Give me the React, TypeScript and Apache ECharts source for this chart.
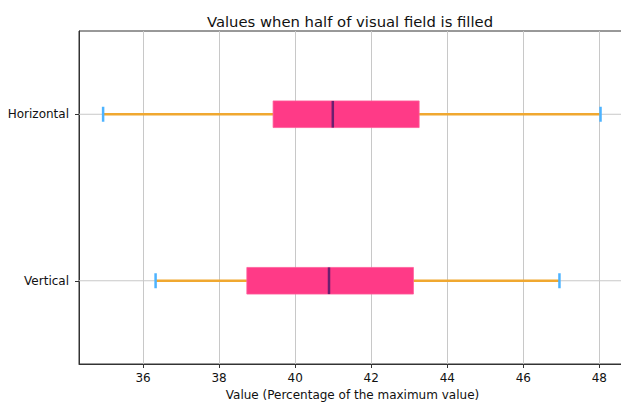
import React, { useEffect, useRef } from "react";
import * as echarts from "echarts";

const categories = ["Vertical", "Horizontal"];
const mins = [36.33, 34.95];
const q1s = [38.73, 39.42];
const medians = [40.89, 40.99];
const q3s = [43.11, 43.26];
const maxs = [46.95, 48.03];
const xTicks = [36, 38, 40, 42, 44, 46, 48];

const FONT = "DejaVu Sans";

export default function App() {
  const ref = useRef<HTMLDivElement>(null);
  useEffect(() => {
    document.body.style.margin = "0";
    const chart = echarts.init(ref.current!, null, { renderer: "svg" });
    const data = categories.map((_, i) => [i, mins[i], q1s[i], medians[i], q3s[i], maxs[i]]);
    chart.setOption({
      animation: false,
      backgroundColor: "#ffffff",
      title: {
        text: "Values when half of visual field is filled",
        left: 345,
        textAlign: "center",
        top: 9,
        textStyle: { fontFamily: FONT, fontSize: 14.8, fontWeight: "normal", color: "#111" },
      },
      grid: {
        left: 79, top: 31, width: 547, bottom: 39,
        show: true, borderColor: "#333", borderWidth: 1,
        containLabel: false, outerBoundsMode: "none",
      },
      xAxis: {
        type: "value",
        min: 34.316,
        max: 48.7,
        name: "Value (Percentage of the maximum value)",
        nameLocation: "middle",
        nameGap: 23,
        nameTextStyle: { fontFamily: FONT, fontSize: 12, color: "#111" },
        axisLine: { show: true, lineStyle: { color: "#333", width: 1 } },
        axisTick: { show: true, length: 4, customValues: xTicks, lineStyle: { color: "#333" } },
        axisLabel: { customValues: xTicks, margin: 8, fontFamily: FONT, fontSize: 12, color: "#111" },
        splitLine: { show: true, lineStyle: { color: "#c8c8c8", width: 1 } },
      },
      yAxis: {
        type: "category",
        data: categories,
        axisLine: { show: true, lineStyle: { color: "#333", width: 1 } },
        axisTick: { show: true, alignWithLabel: true, length: 4, lineStyle: { color: "#333" } },
        axisLabel: { margin: 10, fontFamily: FONT, fontSize: 12, color: "#111" },
        splitLine: { show: false },
      },
      series: [
        {
          type: "custom",
          data,
          encode: { x: [1, 2, 3, 4, 5], y: 0 },
          renderItem: (params: any, api: any) => {
            const cat = api.value(0);
            const pMin = api.coord([api.value(1), cat]);
            const pQ1 = api.coord([api.value(2), cat]);
            const pMed = api.coord([api.value(3), cat]);
            const pQ3 = api.coord([api.value(4), cat]);
            const pMax = api.coord([api.value(5), cat]);
            const band = api.size([0, 1])[1];
            const boxH = band * 0.16;
            const capH = band * 0.09;
            const cy = pMed[1];
            const cs = params.coordSys;
            return {
              type: "group",
              children: [
                { type: "line", shape: { x1: cs.x, y1: cy, x2: cs.x + cs.width, y2: cy }, style: { stroke: "#c8c8c8", lineWidth: 1 } },
                { type: "line", shape: { x1: pMin[0], y1: cy, x2: pQ1[0], y2: cy }, style: { stroke: "#F0A830", lineWidth: 2.5 } },
                { type: "line", shape: { x1: pQ3[0], y1: cy, x2: pMax[0], y2: cy }, style: { stroke: "#F0A830", lineWidth: 2.5 } },
                { type: "rect", shape: { x: pQ1[0], y: cy - boxH / 2, width: pQ3[0] - pQ1[0], height: boxH }, style: { fill: "#FF3A87", stroke: "#FF5C99", lineWidth: 0.8 } },
                { type: "line", shape: { x1: pMed[0], y1: cy - boxH / 2, x2: pMed[0], y2: cy + boxH / 2 }, style: { stroke: "#6B1F6F", lineWidth: 2.5 } },
                { type: "line", shape: { x1: pMin[0], y1: cy - capH / 2, x2: pMin[0], y2: cy + capH / 2 }, style: { stroke: "#4DB3FF", lineWidth: 2.5 } },
                { type: "line", shape: { x1: pMax[0], y1: cy - capH / 2, x2: pMax[0], y2: cy + capH / 2 }, style: { stroke: "#4DB3FF", lineWidth: 2.5 } },
              ],
            };
          },
        },
      ],
    });
    return () => chart.dispose();
  }, []);
  return <div ref={ref} style={{ width: 621, height: 403 }} />;
}
